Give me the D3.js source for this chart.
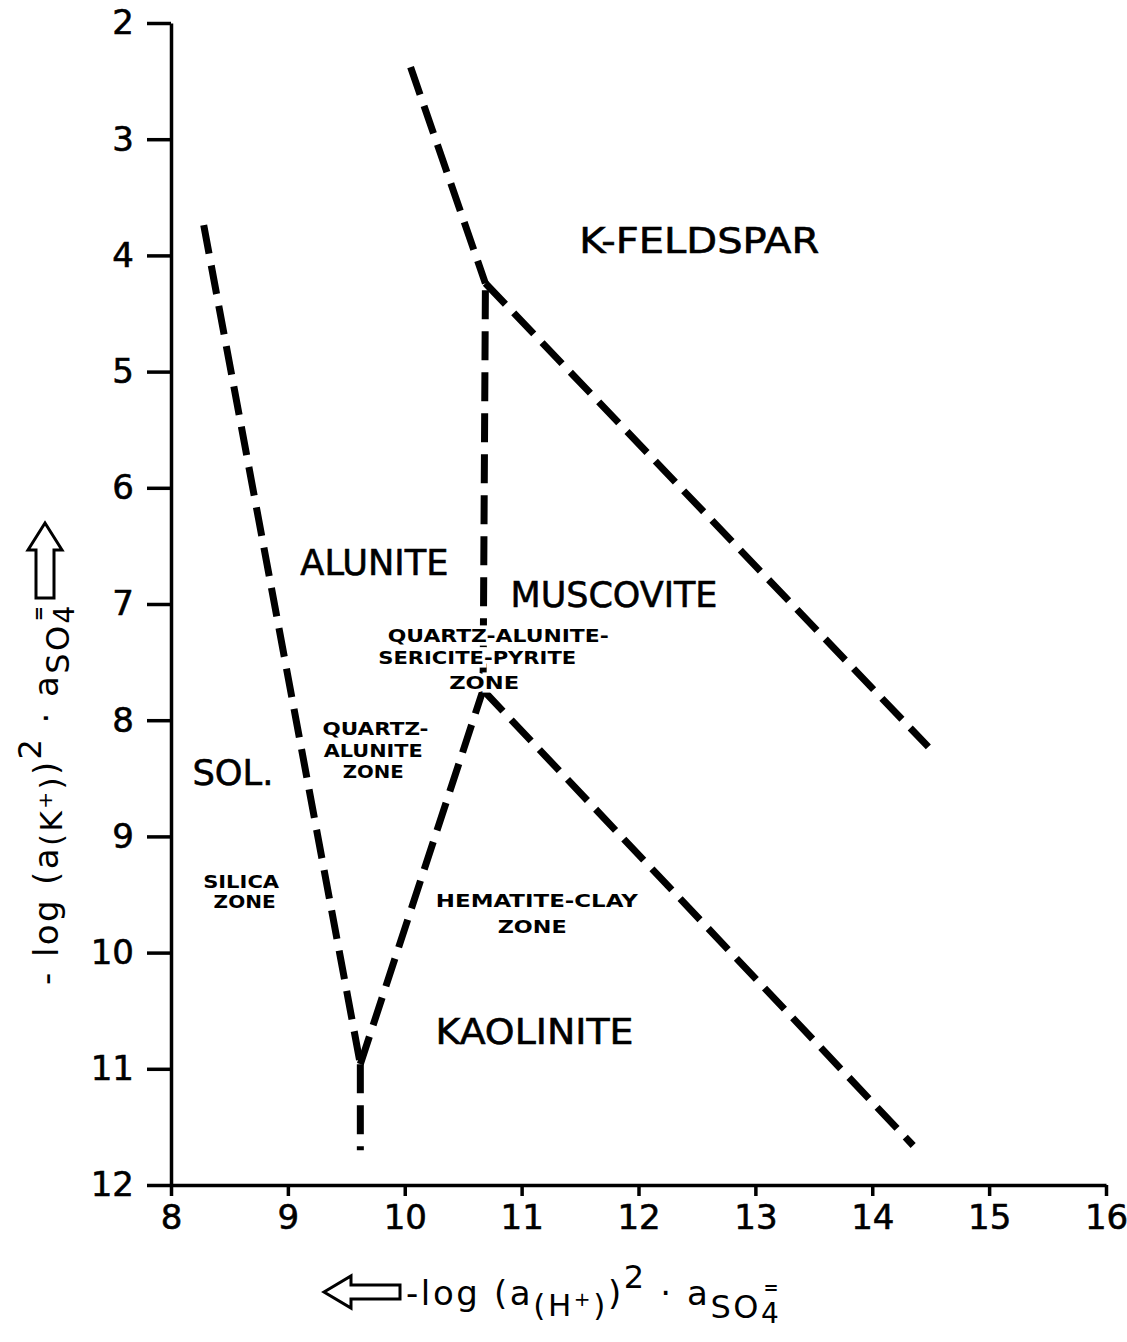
<!DOCTYPE html>
<html>
<head>
<meta charset="utf-8">
<script src="https://cdn.jsdelivr.net/npm/d3@7"></script>
<style>
  html, body { margin: 0; padding: 0; background: #fff; }
  svg { display: block; }
  text { font-family: "DejaVu Sans", "Liberation Sans", sans-serif; fill: #000; }
</style>
</head>
<body>
<script>
// Axis extents and tick values
const xDomain = [8, 16];
const yDomain = [2, 12];
const xTicks = [8, 9, 10, 11, 12, 13, 14, 15, 16];
const yTicks = [2, 3, 4, 5, 6, 7, 8, 9, 10, 11, 12];

// Stability-field boundaries: [-log(aH+^2 * aSO4), -log(aK+^2 * aSO4)]
const aluniteSolution   = [[8.28, 3.74], [9.62, 10.96]];
const kaoliniteSolution = [[9.62, 10.96], [9.62, 11.70]];
const aluniteKaolinite  = [[9.62, 10.96], [10.67, 7.74]];
const aluniteMuscovite  = [[10.69, 4.30], [10.67, 7.74]];
const aluniteKfeldspar  = [[10.05, 2.38], [10.69, 4.24]];
const muscoviteKfeldspar = [[10.69, 4.24], [14.48, 8.23]];
const kaoliniteMuscovite = [[10.67, 7.74], [14.35, 11.66]];

const boundaries = [aluniteSolution, kaoliniteSolution, aluniteKaolinite,
  aluniteMuscovite, aluniteKfeldspar, muscoviteKfeldspar, kaoliniteMuscovite];

// Mineral field names, anchored at [x, y] in axis units
const mineralNames = ["K-FELDSPAR", "ALUNITE", "MUSCOVITE", "SOL.", "KAOLINITE"];
const mineralAnchors = [[12.52, 3.98], [9.74, 6.75], [11.79, 7.03], [8.53, 8.56], [11.11, 10.79]];
const mineralWidths = [240, 148, 207, 81, 198];

// Alteration zone names (one entry per printed line)
const zoneLines = ["QUARTZ-", "ALUNITE", "ZONE",
  "SILICA", "ZONE",
  "QUARTZ-ALUNITE-", "SERICITE-PYRITE", "ZONE",
  "HEMATITE-CLAY", "ZONE"];
const zoneAnchors = [[9.75, 8.13], [9.73, 8.32], [9.73, 8.50],
  [8.60, 9.44], [8.63, 9.62],
  [10.80, 7.33], [10.62, 7.52], [10.68, 7.73],
  [11.13, 9.61], [11.09, 9.83]];
const zoneWidths = [106, 99, 61, 76, 62, 221, 198, 70, 202, 69];
const zoneHalo = [false, false, false, false, false, true, true, true, false, false];

const W = 1127, H = 1342;
const svg = d3.select("body").append("svg").attr("width", W).attr("height", H);

const x = d3.scaleLinear().domain(xDomain).range([171, 1106]);
const y = d3.scaleLinear().domain(yDomain).range([23, 1185]);

// Axes
const yAxis = d3.axisLeft(y).tickValues(yTicks).tickSize(24).tickSizeOuter(0).tickPadding(13)
  .tickFormat(d3.format("d"));
const xAxis = d3.axisBottom(x).tickValues(xTicks).tickSize(11).tickSizeOuter(0).tickPadding(9)
  .tickFormat(d3.format("d"));

const gy = svg.append("g").attr("transform", `translate(${x(8)},0)`).call(yAxis);
const gx = svg.append("g").attr("transform", `translate(0,${y(12)})`).call(xAxis);

[gx, gy].forEach(g => {
  g.select(".domain").attr("stroke", "#000").attr("stroke-width", 3.5);
  g.selectAll(".tick line").attr("stroke", "#000").attr("stroke-width", 3.5);
  g.selectAll(".tick text")
    .style("font-family", '"DejaVu Sans", sans-serif')
    .style("font-size", "34px")
    .attr("fill", "#000")
    .attr("stroke", "#000")
    .attr("stroke-width", 0.6);
});

// Boundary lines
const line = d3.line().x(d => x(d[0])).y(d => y(d[1]));
svg.append("g").selectAll("path").data(boundaries).join("path")
  .attr("d", line)
  .attr("fill", "none")
  .attr("stroke", "#000")
  .attr("stroke-width", 7)
  .attr("stroke-dasharray", "29 12");

// Mineral field names
svg.append("g").selectAll("text").data(mineralNames).join("text")
  .attr("x", (d, i) => x(mineralAnchors[i][0]))
  .attr("y", (d, i) => y(mineralAnchors[i][1]))
  .attr("text-anchor", "middle")
  .attr("textLength", (d, i) => mineralWidths[i])
  .attr("lengthAdjust", "spacingAndGlyphs")
  .style("font-size", "35px")
  .attr("stroke", "#000")
  .attr("stroke-width", 0.6)
  .text(d => d);

// Zone names
svg.append("g").selectAll("text").data(zoneLines).join("text")
  .attr("x", (d, i) => x(zoneAnchors[i][0]))
  .attr("y", (d, i) => y(zoneAnchors[i][1]))
  .attr("text-anchor", "middle")
  .attr("textLength", (d, i) => zoneWidths[i])
  .attr("lengthAdjust", "spacingAndGlyphs")
  .style("font-size", "18px")
  .style("font-weight", "bold")
  .attr("stroke", (d, i) => zoneHalo[i] ? "#fff" : "none")
  .attr("stroke-width", 7)
  .attr("paint-order", "stroke")
  .text(d => d);

// Hollow arrow helper
function hollowArrow(g, tipX, tipY, len, headLen, headHalf, shaftHalf, angle) {
  const pts = [[0, 0], [headLen, -headHalf], [headLen, -shaftHalf], [len, -shaftHalf],
    [len, shaftHalf], [headLen, shaftHalf], [headLen, headHalf]];
  g.append("path")
    .attr("d", d3.line()(pts) + "Z")
    .attr("transform", `translate(${tipX},${tipY}) rotate(${angle})`)
    .attr("fill", "#fff").attr("stroke", "#000").attr("stroke-width", 3)
    .attr("stroke-linejoin", "miter");
}

// X axis title
const xt = svg.append("g");
hollowArrow(xt, 324, 1292, 76, 27, 16, 7, 0);
const xl = xt.append("text").attr("x", 406).attr("y", 1305)
  .style("font-size", "34px").style("letter-spacing", "2.6px");
xl.append("tspan").text("-log (a");
xl.append("tspan").attr("dy", 11).style("font-size", "31px").text("(H");
xl.append("tspan").attr("dy", -10).style("font-size", "20px").text("+");
xl.append("tspan").attr("dy", 10).style("font-size", "31px").text(")");
xl.append("tspan").attr("dy", -11).text(")");
xl.append("tspan").attr("dy", -17).style("font-size", "32px").text("2");
xl.append("tspan").attr("dy", 17).text(" · a");
xl.append("tspan").attr("dy", 13).style("font-size", "32px").text("SO");
xl.append("tspan").attr("dy", 5).style("font-size", "28px").text("4");
xl.append("tspan").attr("dx", -18).attr("dy", -29).style("font-size", "18px").style("font-weight", "bold").text("=");

// Y axis title
const yt = svg.append("g");
hollowArrow(yt, 45, 523, 75, 27, 17, 9, 90);
const yl = yt.append("text").attr("transform", "translate(58,985) rotate(-90)")
  .style("font-size", "34px").style("letter-spacing", "2.4px");
yl.append("tspan").text("- log (a");
yl.append("tspan").attr("dy", 4).style("font-size", "31px").text("(K");
yl.append("tspan").attr("dy", -10).style("font-size", "20px").text("+");
yl.append("tspan").attr("dy", 10).style("font-size", "31px").text(")");
yl.append("tspan").attr("dy", -4).text(")");
yl.append("tspan").attr("dy", -17).style("font-size", "32px").text("2");
yl.append("tspan").attr("dy", 17).text(" · a");
yl.append("tspan").attr("dy", 11).style("font-size", "32px").text("SO");
yl.append("tspan").attr("dy", 5).style("font-size", "28px").text("4");
yl.append("tspan").attr("dx", -18).attr("dy", -29).style("font-size", "18px").style("font-weight", "bold").text("=");
</script>
</body>
</html>
